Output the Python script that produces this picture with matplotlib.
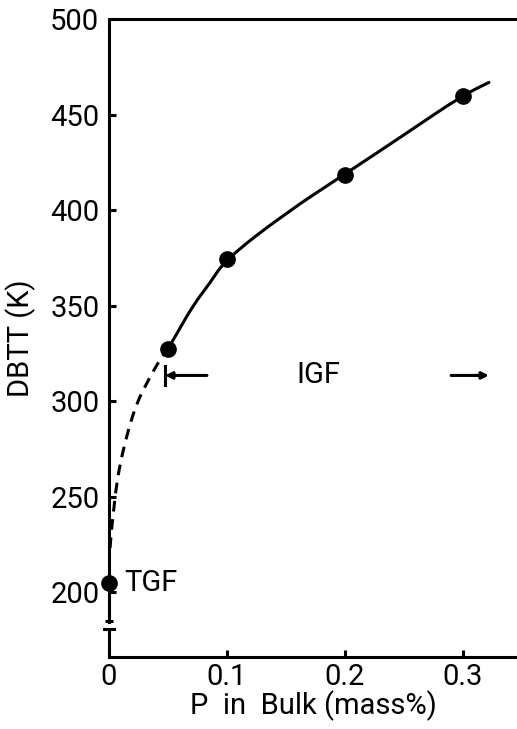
import numpy as np
import matplotlib
matplotlib.use("Agg")
import matplotlib.pyplot as plt
import matplotlib.transforms as mtransforms
from matplotlib.path import Path
from matplotlib.patches import PathPatch

plt.rcParams['font.family'] = ['Roboto', 'DejaVu Sans']

# measured points (P in bulk, DBTT)
p_bulk = [0.0, 0.05, 0.1, 0.2, 0.3]
dbtt = [205, 327.5, 374.5, 418.6, 460]
tgf_err_low = 20

# drawn curve
solid_x = [0.05, 0.057, 0.0715, 0.0856, 0.099, 0.15, 0.199, 0.25, 0.299, 0.322]
solid_y = [327.5, 334.8, 350.5, 361.9, 374.4, 398.7, 418.6, 439.5, 460, 467]
dash_x = [0.0, 0.001, 0.0037, 0.0065, 0.0107, 0.0164, 0.0235, 0.032, 0.043, 0.05]
dash_y = [213.5, 226, 241.5, 257, 271, 285, 299, 309.5, 321.7, 327.5]

yticks = [200, 250, 300, 350, 400, 450, 500]
xticks = [0, 0.1, 0.2, 0.3]
xticklabels = ['0', '0.1', '0.2', '0.3']

# IGF range marker
igf_start, igf_left_tail = 0.0475, 0.083
igf_right_tail, igf_end = 0.29, 0.322
igf_y = 313.5

fs = 21
lw = 2.2


def smooth_path(xs, ys):
    # quadratic bezier through midpoints, read points used as control points
    pts = list(zip(xs, ys))
    verts = [pts[0]]
    codes = [Path.MOVETO]
    for i in range(1, len(pts) - 1):
        mid = ((pts[i][0] + pts[i + 1][0]) / 2, (pts[i][1] + pts[i + 1][1]) / 2)
        verts += [pts[i], mid]
        codes += [Path.CURVE3, Path.CURVE3]
    verts.append(pts[-1])
    codes.append(Path.LINETO)
    return Path(verts, codes)


fig = plt.figure(figsize=(5.17, 7.29), dpi=100)
ax = fig.add_axes([0.2108, 0.0988, 0.7892, 0.8745])
ax.set_xlim(0, 0.3458)
ax.set_ylim(166, 500)

ax.add_patch(PathPatch(smooth_path(solid_x, solid_y), fill=False, edgecolor='black',
                       lw=lw, capstyle='round'))
ax.add_patch(PathPatch(smooth_path(dash_x, dash_y), fill=False, edgecolor='black',
                       lw=lw, linestyle=(0, (3.5, 2.5))))
ax.errorbar(p_bulk[:1], dbtt[:1], yerr=[[tgf_err_low], [0]], fmt='none', ecolor='black',
            elinewidth=lw, capsize=3, capthick=lw, clip_on=False, zorder=3)
ax.plot(p_bulk, dbtt, 'o', color='black', ms=11, clip_on=False, zorder=4)

# spines and axis break
ax.spines['right'].set_visible(False)
for side in ['left', 'bottom', 'top']:
    ax.spines[side].set_linewidth(lw)
ax.spines['left'].set_bounds(184.5, 500)
trans = mtransforms.blended_transform_factory(ax.transAxes, ax.transData)
ax.plot([0, 0], [166, 180.5], color='black', lw=lw, transform=trans, clip_on=False)
ax.plot([-0.012, 0.012], [180.5, 180.5], color='black', lw=lw, transform=trans, clip_on=False)

ax.set_xticks(xticks)
ax.set_xticklabels(xticklabels)
ax.set_yticks(yticks)
ax.tick_params(direction='in', length=5, width=lw, labelsize=fs)
ax.tick_params(axis='y', pad=7)
ax.tick_params(axis='x', pad=4)

ax.set_ylabel('DBTT (K)', fontsize=fs, labelpad=10)
ax.set_xlabel('P  in  Bulk (mass%)', fontsize=fs, labelpad=0)

ax.text(0.0127, dbtt[0], 'TGF', fontsize=fs, va='center', ha='left')
ax.text(0.177, igf_y, 'IGF', fontsize=fs, va='center', ha='center')
ax.plot([igf_start, igf_start], [igf_y - 5, igf_y + 5], color='black', lw=lw)
ax.annotate('', xy=(igf_start, igf_y), xytext=(igf_left_tail, igf_y),
            arrowprops=dict(arrowstyle='-|>', color='black', lw=lw,
                            mutation_scale=10, shrinkA=0, shrinkB=0))
ax.annotate('', xy=(igf_end, igf_y), xytext=(igf_right_tail, igf_y),
            arrowprops=dict(arrowstyle='-|>', color='black', lw=lw,
                            mutation_scale=10, shrinkA=0, shrinkB=0))

fig.savefig('out.png', dpi=100)
